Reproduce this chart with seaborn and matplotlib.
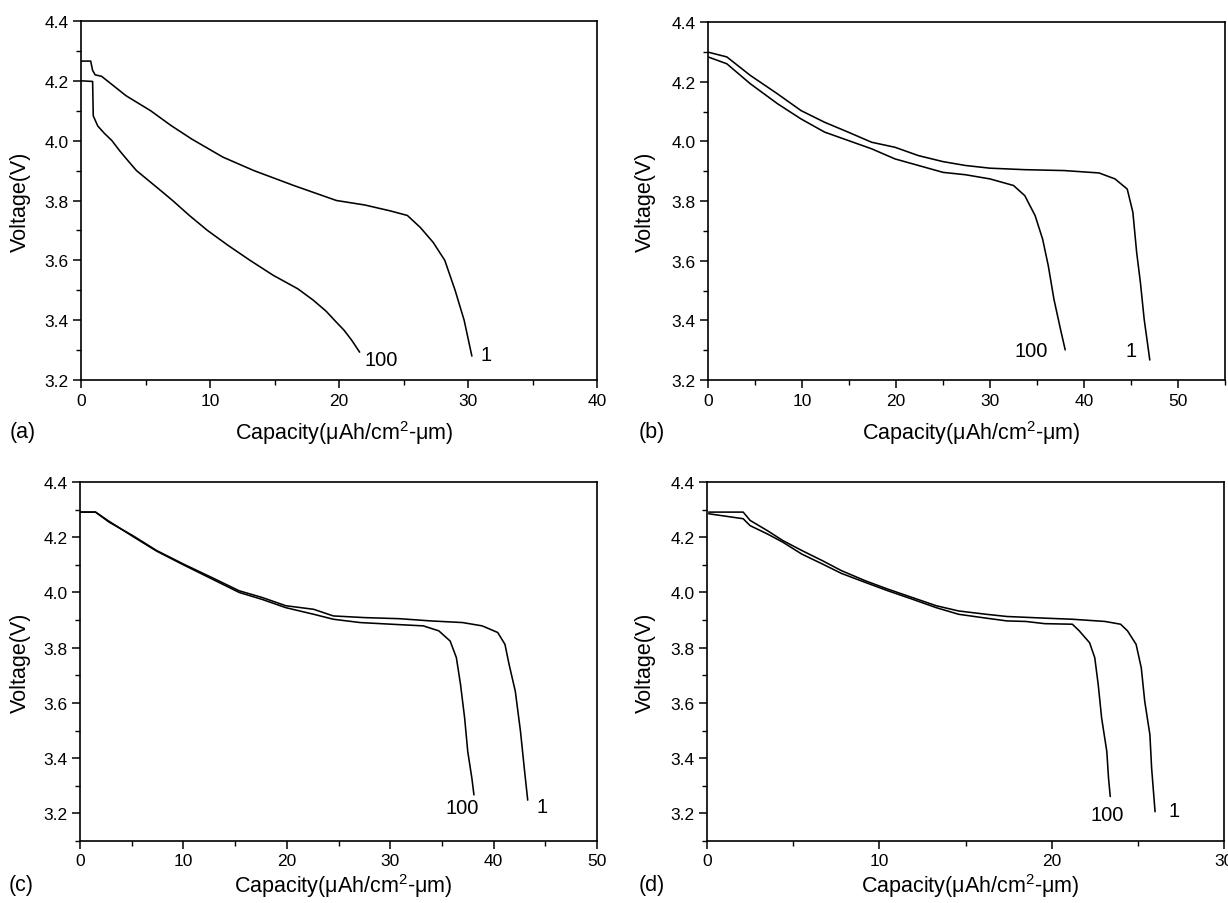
import matplotlib
matplotlib.use("Agg")
import matplotlib.pyplot as plt
from matplotlib.ticker import MultipleLocator, FormatStrFormatter
import seaborn as sns
import pandas as pd

# ---- discharge curves: capacity (uAh/cm2-um) vs voltage (V), cycles 1 and 100 ----
cap_a_1 = [0.0, 0.75, 0.9, 1.1, 1.6, 3.5, 5.4, 7.0, 8.6, 11.0, 13.4, 16.5, 19.8, 22.0, 24.0, 25.3,
           26.3, 27.3, 28.2, 29.0, 29.7, 30.3]
volt_a_1 = [4.266, 4.266, 4.235, 4.220, 4.215, 4.150, 4.100, 4.050, 4.005, 3.945, 3.900, 3.850,
            3.800, 3.785, 3.765, 3.750, 3.710, 3.660, 3.600, 3.500, 3.400, 3.280]
cap_a_100 = [0.0, 0.9, 0.95, 1.3, 1.8, 2.4, 3.0, 3.7, 4.3, 5.2, 6.1, 7.1, 8.4, 9.8, 11.4, 13.1, 14.9,
             16.8, 18.0, 19.0, 19.8, 20.4, 21.0, 21.6]
volt_a_100 = [4.200, 4.198, 4.083, 4.049, 4.025, 4.000, 3.966, 3.930, 3.900, 3.868, 3.836, 3.800,
              3.750, 3.700, 3.650, 3.600, 3.550, 3.505, 3.467, 3.430, 3.393, 3.366, 3.332, 3.293]

cap_b_1 = [0.0, 2.0, 4.5, 7.4, 9.9, 12.4, 14.9, 17.4, 19.9, 22.4, 25.0, 27.4, 30.0, 33.7, 37.9, 41.6,
           43.3, 44.6, 45.2, 45.6, 46.0, 46.4, 47.0]
volt_b_1 = [4.299, 4.283, 4.221, 4.159, 4.103, 4.064, 4.031, 3.997, 3.980, 3.952, 3.932, 3.919, 3.910,
            3.905, 3.902, 3.894, 3.874, 3.840, 3.762, 3.628, 3.527, 3.404, 3.267]
cap_b_100 = [0.0, 2.0, 4.5, 7.4, 9.9, 12.4, 14.9, 17.4, 19.9, 22.4, 25.0, 27.4, 30.0, 32.5, 33.7, 34.8,
             35.6, 36.2, 36.8, 37.5, 38.0]
volt_b_100 = [4.283, 4.260, 4.193, 4.126, 4.075, 4.031, 4.003, 3.975, 3.941, 3.919, 3.896, 3.888,
              3.874, 3.852, 3.818, 3.751, 3.672, 3.583, 3.471, 3.370, 3.301]

cap_c_1 = [0.0, 1.5, 2.8, 5.1, 7.4, 10.0, 12.7, 15.4, 17.6, 19.9, 22.6, 24.5, 27.5, 30.9, 33.9, 37.0,
           38.9, 40.4, 41.1, 41.5, 42.1, 42.6, 43.0, 43.3]
volt_c_1 = [4.291, 4.291, 4.255, 4.206, 4.152, 4.103, 4.055, 4.006, 3.982, 3.952, 3.939, 3.915, 3.909,
            3.905, 3.897, 3.891, 3.879, 3.855, 3.812, 3.739, 3.642, 3.497, 3.352, 3.248]
cap_c_100 = [0.0, 1.5, 2.8, 5.1, 7.4, 10.0, 12.7, 15.4, 17.6, 19.9, 22.6, 24.5, 27.1, 30.1, 33.2,
             34.7, 35.8, 36.4, 36.8, 37.2, 37.5, 37.9, 38.1]
volt_c_100 = [4.291, 4.291, 4.258, 4.203, 4.150, 4.100, 4.050, 4.000, 3.975, 3.945, 3.921, 3.903,
              3.891, 3.885, 3.879, 3.861, 3.824, 3.764, 3.667, 3.545, 3.424, 3.327, 3.267]

cap_d_1 = [0.1, 2.1, 2.5, 3.5, 4.4, 5.5, 6.7, 7.8, 9.2, 10.5, 11.9, 13.3, 14.6, 16.2, 17.4, 19.6,
           21.2, 23.1, 24.0, 24.4, 24.9, 25.2, 25.4, 25.7, 25.8, 26.0]
volt_d_1 = [4.291, 4.291, 4.261, 4.224, 4.188, 4.152, 4.115, 4.079, 4.042, 4.012, 3.982, 3.952, 3.933,
            3.921, 3.913, 3.907, 3.903, 3.895, 3.885, 3.861, 3.812, 3.727, 3.606, 3.485, 3.364, 3.206]
cap_d_100 = [0.1, 2.1, 2.5, 3.5, 4.4, 5.5, 6.7, 7.8, 9.2, 10.5, 11.9, 13.3, 14.6, 16.2, 17.4, 18.5,
             19.6, 21.2, 21.6, 22.2, 22.5, 22.7, 22.9, 23.2, 23.3, 23.4]
volt_d_100 = [4.285, 4.267, 4.242, 4.212, 4.182, 4.139, 4.103, 4.069, 4.036, 4.006, 3.976, 3.945,
              3.921, 3.907, 3.897, 3.895, 3.887, 3.885, 3.861, 3.818, 3.764, 3.667, 3.545, 3.424,
              3.327, 3.261]

# ---- panel settings ----
panel_tags = ["(a)", "(b)", "(c)", "(d)"]
x_limits = [(0, 40), (0, 55), (0, 50), (0, 30)]
y_limits = [(3.2, 4.4), (3.2, 4.4), (3.1, 4.4), (3.1, 4.4)]
cycle_names = ["100", "1"]
# (x, y) of the cycle-number labels, in data units
label_pos_100 = [(23.3, 3.27), (34.4, 3.30), (37.0, 3.22), (23.2, 3.195)]
label_pos_1 = [(31.4, 3.285), (45.0, 3.30), (44.7, 3.225), (27.1, 3.21)]

curves = [
    (cap_a_1, volt_a_1, cap_a_100, volt_a_100),
    (cap_b_1, volt_b_1, cap_b_100, volt_b_100),
    (cap_c_1, volt_c_1, cap_c_100, volt_c_100),
    (cap_d_1, volt_d_1, cap_d_100, volt_d_100),
]

sns.set_theme(style="ticks")
plt.rcParams["font.family"] = ["Liberation Sans", "DejaVu Sans"]
plt.rcParams["mathtext.fontset"] = "custom"
plt.rcParams["mathtext.rm"] = "Liberation Sans"
plt.rcParams["axes.linewidth"] = 1.2
plt.rcParams["text.color"] = "black"
plt.rcParams["axes.labelcolor"] = "black"

W, H = 1228, 904
fig = plt.figure(figsize=(W / 100, H / 100), dpi=100)

# axes boxes in pixels: left, top, right, bottom
boxes = [(81, 22, 597, 381), (708, 23, 1225, 381), (80, 483, 597, 842), (707, 483, 1224, 842)]
label_row_y = [433, 433, 886, 886]
tag_xy = [(23, 433), (652, 433), (21, 886), (652, 886)]

for i, (l, t, r, b) in enumerate(boxes):
    ax = fig.add_axes([l / W, 1 - b / H, (r - l) / W, (b - t) / H])
    c1x, c1y, c100x, c100y = curves[i]
    df1 = pd.DataFrame({"cap": c1x, "volt": c1y})
    df100 = pd.DataFrame({"cap": c100x, "volt": c100y})
    sns.lineplot(data=df1, x="cap", y="volt", ax=ax, color="black", lw=1.15,
                 sort=False, estimator=None)
    sns.lineplot(data=df100, x="cap", y="volt", ax=ax, color="black", lw=1.15,
                 sort=False, estimator=None)

    ax.set_xlim(*x_limits[i])
    ax.set_ylim(*y_limits[i])
    ax.xaxis.set_major_locator(MultipleLocator(10))
    ax.xaxis.set_minor_locator(MultipleLocator(5))
    ax.yaxis.set_major_locator(MultipleLocator(0.2))
    ax.yaxis.set_minor_locator(MultipleLocator(0.1))
    ax.yaxis.set_major_formatter(FormatStrFormatter("%.1f"))
    ax.tick_params(axis="both", which="major", direction="out", length=6, width=1.1,
                   labelsize=12.5, pad=3, color="black", labelcolor="black")
    ax.tick_params(axis="both", which="minor", direction="out", length=3.5, width=1.0,
                   color="black")
    for sp in ax.spines.values():
        sp.set_visible(True)
        sp.set_color("black")

    ax.set_xlabel(r"Capacity($\mathregular{\mu}$Ah/cm$\mathregular{^2}$-$\mathregular{\mu}$m)",
                  fontsize=15.5, va="center")
    ax.set_ylabel("Voltage(V)", fontsize=15.5, va="center")
    ax.xaxis.set_label_coords(0.51, (b - label_row_y[i]) / (b - t))
    ylab_x = 20 if i % 2 == 0 else 645
    ax.yaxis.set_label_coords((ylab_x - l) / (r - l), 0.5)

    ax.text(*label_pos_100[i], cycle_names[0], fontsize=14.5, ha="center", va="center")
    ax.text(*label_pos_1[i], cycle_names[1], fontsize=14.5, ha="center", va="center")

    fig.text(tag_xy[i][0] / W, 1 - tag_xy[i][1] / H, panel_tags[i], fontsize=15.5,
             ha="center", va="center")

fig.savefig("out.png", dpi=100, facecolor="white")
